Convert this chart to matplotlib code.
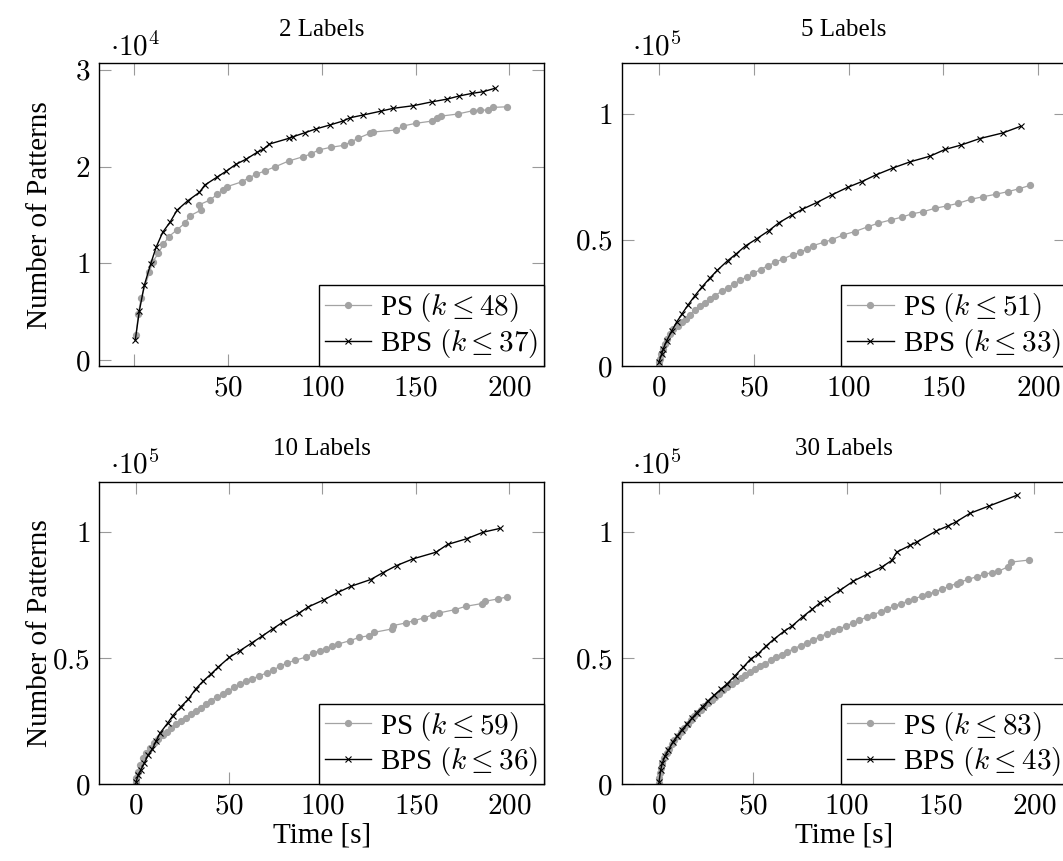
import matplotlib
matplotlib.use("Agg")
import matplotlib.pyplot as plt
from matplotlib.ticker import FuncFormatter

plt.rcParams["font.family"] = "serif"
plt.rcParams["font.serif"] = ["Liberation Serif", "DejaVu Serif"]
plt.rcParams["mathtext.fontset"] = "cm"

# ---- data (time in s, number of patterns) ----
titles = ["2 Labels", "5 Labels", "10 Labels", "30 Labels"]
ps_k = [48, 51, 59, 83]
bps_k = [37, 33, 36, 43]

ps2_t = [0.9, 2.1, 3.6, 8, 9.8, 12.8, 15.5, 18.3, 22.6, 26.9, 29.7, 35.6, 34.3, 40.4, 44.2,
         47.2, 49.3, 57.5, 61.1, 65, 69.8, 75.2, 82.3, 89.9, 94, 98.3, 104.7, 111.6, 115.8,
         119.3, 125.5, 127.3, 139.8, 143.3, 150.1, 159, 161.5, 163.8, 172.4, 180.4, 184.3,
         188.7, 191.4, 198.9]
ps2_n = [2590, 4760, 6380, 9070, 10170, 11030, 11960, 12750, 13440, 14140, 14920, 15510,
         16030, 16550, 17130, 17580, 17920, 18440, 18850, 19200, 19580, 19990, 20580, 21020,
         21300, 21720, 22000, 22200, 22580, 22930, 23440, 23580, 23790, 24200, 24480, 24720,
         24990, 25230, 25440, 25780, 25850, 25850, 26130, 26190]
bps2_t = [0.5, 2.7, 5.3, 8.7, 11.6, 15.1, 19.2, 22.8, 28.5, 34.7, 37.6, 44, 49.1, 54.1, 59.8,
          65.5, 68.7, 72.1, 82.3, 84.6, 91, 96.7, 104.2, 111.3, 115.2, 122, 131.8, 138, 148.7,
          159, 167, 173.1, 180.2, 186.1, 192.3]
bps2_n = [2070, 5100, 7720, 9930, 11650, 13200, 14300, 15500, 16470, 17340, 18100, 18900,
          19540, 20230, 20790, 21480, 21790, 22340, 22920, 23090, 23510, 23890, 24300, 24720,
          25060, 25340, 25750, 26030, 26300, 26710, 26990, 27300, 27580, 27750, 28100]

ps5_t = [0, 0.5, 1.1, 2, 3.2, 4.4, 5.8, 7.5, 9.9, 12, 14.2, 16.3, 19, 21.6, 24.3, 26.9, 29.5,
         33.1, 36.2, 39.5, 42.8, 46.3, 49.8, 53.6, 57.3, 61.2, 65.2, 70.5, 74.4, 77.9, 81.4,
         87.2, 91, 97.2, 103.3, 110.4, 115.6, 122.3, 127.9, 133.2, 139.4, 145.5, 151.7, 157.8,
         164.3, 171, 177.5, 183.8, 189.9, 195.6]
ps5_n = [1580, 2920, 4620, 6590, 8570, 10540, 12510, 14490, 15790, 17370, 18710, 20410, 22110,
         23690, 25030, 26610, 27910, 29610, 30950, 32530, 33950, 35290, 36870, 38180, 39750,
         41060, 42400, 44100, 45010, 46350, 47770, 49110, 50020, 51990, 53300, 55270, 56610,
         57920, 58980, 60280, 61190, 62530, 63440, 64500, 66080, 67110, 68060, 69090, 70280,
         71610]
bps5_t = [0, 1.4, 2.3, 4, 6.7, 9.3, 12.3, 15.5, 19, 22.5, 26.9, 30.7, 36.2, 40.6, 45.7, 51.5,
          58, 63.4, 70.3, 75.6, 83.1, 91, 99.5, 106.8, 114.2, 123.6, 132.4, 142.9, 150.8, 159,
          169.2, 181.2, 190.7]
bps5_n = [1580, 4620, 6870, 9870, 13820, 17370, 20810, 24360, 27910, 31190, 34900, 37900,
          41730, 44370, 47650, 50410, 53690, 56850, 59890, 62140, 64750, 67790, 70830, 73040,
          75690, 78560, 80930, 83180, 85830, 87530, 90170, 92380, 95030]

ps10_t = [0, 0.2, 1.1, 2.3, 3.7, 5.5, 7.7, 10, 12.1, 14.5, 16.6, 18.9, 21.6, 24.3, 26.8, 29.4,
          32.3, 34.9, 37.6, 40.3, 43.4, 46.6, 49.6, 52.8, 55.8, 58.9, 62.1, 66.2, 70.1, 73.7,
          77.2, 80.8, 85.3, 91.2, 94.8, 98.7, 101.9, 105.2, 108.5, 114.7, 119.7, 125.1, 127.6,
          137.2, 137.6, 144.7, 149, 154.3, 159.3, 162.5, 170.9, 176.8, 185.2, 187, 194.1, 198.9]
ps10_n = [800, 2380, 5010, 7670, 10330, 12320, 14310, 16300, 17890, 19590, 20910, 22260, 23850,
          25160, 26470, 27940, 29010, 30450, 31800, 33230, 34580, 35770, 37080, 38390, 39750,
          40780, 41730, 43040, 44120, 45430, 46740, 48090, 49130, 50480, 52070, 52980, 53780,
          54850, 55640, 56960, 58270, 58940, 60260, 61600, 62920, 63990, 64900, 65980, 67290,
          67960, 69270, 70590, 71660, 72580, 73530, 74320]
bps10_t = [0.2, 1.4, 2.7, 4.6, 6.7, 8.9, 10.9, 13, 17.1, 19.8, 24.3, 28.2, 32.1, 35.9, 40.3,
           44.2, 50.1, 55.8, 62.1, 67.5, 73.3, 79, 87.6, 92.4, 101, 108.5, 115.3, 125.8, 132.2,
           139.7, 148.6, 160.8, 167, 177.2, 186.1, 195]
bps10_n = [1030, 3700, 5680, 8350, 11650, 13910, 17100, 20270, 24240, 27150, 30840, 33780,
           37760, 40780, 43720, 46500, 50320, 52980, 56040, 58670, 61610, 64390, 67960, 70350,
           73250, 76160, 78540, 81200, 83860, 86760, 89430, 92050, 95110, 97380, 100000, 101470]

ps30_t = [0, 0.2, 0.5, 1.1, 1.8, 2.8, 4.1, 5.3, 6.8, 8.2, 10, 11.7, 13.5, 15.3, 17.1, 18.7,
          20.4, 22.2, 24, 26, 28.1, 29.9, 32.2, 34.3, 36.4, 38.8, 41.1, 43.6, 45.9, 48.5, 51.2,
          53.9, 56.5, 59.6, 62.4, 65.4, 68.4, 72, 75.6, 78.7, 82.3, 85.9, 89.4, 92.6, 96.2,
          99.7, 103.3, 106.8, 110.8, 114.3, 118.3, 121.8, 125.5, 128.9, 133, 136.2, 140.1,
          143.6, 147.2, 150.8, 154.8, 158.7, 160.5, 164.9, 169.4, 173.5, 177.4, 180.9, 186.3,
          188, 197.5]
ps30_n = [700, 2390, 4380, 6360, 8350, 10340, 12330, 14040, 15910, 17620, 19210, 20920, 22510,
          23990, 25580, 26890, 28240, 29550, 30870, 32220, 33530, 34610, 35920, 37230, 38420,
          39780, 40810, 42160, 43200, 44550, 45740, 46780, 47850, 49160, 50360, 51430, 52510,
          53820, 55010, 56090, 57400, 58470, 59790, 60700, 61770, 62690, 64040, 65080, 66270,
          67340, 68420, 69610, 70640, 71600, 72630, 73590, 74620, 75580, 76210, 77290, 78600,
          79550, 80190, 81260, 82340, 83250, 83930, 84450, 86320, 88150, 88950]
bps30_t = [0, 0.9, 1.8, 3.2, 5, 7.3, 9.8, 12.1, 14.8, 17.4, 20.1, 23.3, 26.3, 29.5, 33.1, 36.1,
           40.5, 45, 48.9, 53, 56.9, 61.5, 66.7, 70.8, 76.6, 81.5, 85.9, 89.8, 96.6, 103.7,
           110.8, 118.8, 124.2, 126.8, 134, 137.5, 147.9, 154.1, 158.4, 166, 176.2, 191.1]
bps30_n = [1030, 5800, 8500, 11200, 13500, 16700, 19200, 21600, 23800, 26100, 28400, 30800,
           33200, 35400, 37800, 39700, 43080, 46540, 49720, 51830, 54740, 57680, 60700, 62690,
           66430, 69330, 71990, 73590, 77010, 80590, 83250, 86160, 88820, 92120, 94790, 96100,
           100480, 102470, 104060, 107520, 110420, 114680]

ps_series = [(ps2_t, ps2_n), (ps5_t, ps5_n), (ps10_t, ps10_n), (ps30_t, ps30_n)]
bps_series = [(bps2_t, bps2_n), (bps5_t, bps5_n), (bps10_t, bps10_n), (bps30_t, bps30_n)]

# ---- layout ----
rects = [
    [0.0934, 0.5749, 0.4183, 0.3516],
    [0.5849, 0.5749, 0.4183, 0.3516],
    [0.0934, 0.0891, 0.4183, 0.3514],
    [0.5849, 0.0891, 0.4183, 0.3514],
]
xlims = [(-18.7, 218.5), (-19.6, 214.8), (-19.5, 218.6), (-19.9, 217.3)]
ylims = [(-620, 30690), (0, 120000), (0, 120000), (0, 120000)]
yticks = [[0, 10000, 20000, 30000], [0, 50000, 100000], [0, 50000, 100000], [0, 50000, 100000]]
scales = [4, 5, 5, 5]

GRAY = "#a3a3a3"
FS = 21

fig = plt.figure(figsize=(10.63, 8.61), dpi=100)

for i in range(4):
    ax = fig.add_axes(rects[i])
    t, n = ps_series[i]
    ax.plot(t, n, color=GRAY, lw=0.9, marker="o", ms=4.2, mfc=GRAY, mec=GRAY,
            label=r"PS $(k \leq %d)$" % ps_k[i])
    t, n = bps_series[i]
    ax.plot(t, n, color="black", lw=1.0, marker="x", ms=5, mew=0.8,
            label=r"BPS $(k \leq %d)$" % bps_k[i])

    ax.set_xlim(*xlims[i])
    ax.set_ylim(*ylims[i])
    ax.set_xticks([0, 50, 100, 150, 200])
    if i == 0:
        ax.set_xticklabels(["", r"$50$", r"$100$", r"$150$", r"$200$"])
    else:
        ax.xaxis.set_major_formatter(FuncFormatter(lambda v, p: r"$%g$" % v))
    ax.set_yticks(yticks[i])
    s = 10 ** scales[i]
    ax.yaxis.set_major_formatter(FuncFormatter(lambda v, p, s=s: r"$%g$" % (v / s)))

    ax.tick_params(direction="in", length=8.4, width=0.8, color="#9a9a9a",
                   top=True, right=True, labelsize=FS, pad=6.5)
    for sp in ax.spines.values():
        sp.set_linewidth(1.0)
        sp.set_color("black")

    ax.text(0.024, 1.026, r"$\cdot 10^{%d}$" % scales[i], transform=ax.transAxes,
            ha="left", va="baseline", fontsize=FS)
    ax.set_title(titles[i], fontsize=18, pad=19.5)

    if i % 2 == 0:
        ax.set_ylabel("Number of Patterns", fontsize=FS)
        ax.yaxis.set_label_coords(-0.105, 0.5)
    if i >= 2:
        ax.set_xlabel("Time [s]", fontsize=FS)
        ax.xaxis.set_label_coords(0.5, -0.125)

    leg = ax.legend(loc="lower right", bbox_to_anchor=(1, 0), borderaxespad=0,
                    fontsize=FS, fancybox=False, edgecolor="black", framealpha=1,
                    handlelength=1.6, handletextpad=0.3, labelspacing=0.1,
                    borderpad=0.2)
    leg.get_frame().set_linewidth(1.0)

fig.savefig("out.png", dpi=100)
